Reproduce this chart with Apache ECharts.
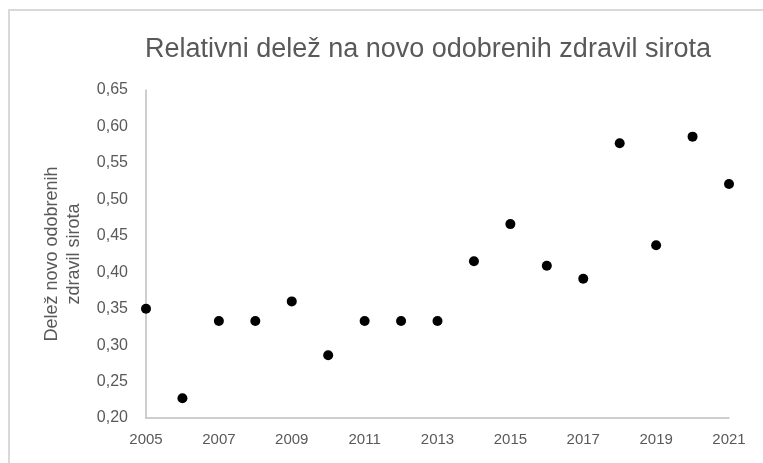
<!DOCTYPE html>
<html>
<head>
<meta charset="utf-8">
<script src="https://cdn.jsdelivr.net/npm/echarts@6/dist/echarts.min.js"></script>
<style>
	html, body { margin: 0; padding: 0; background: #fff; }
	#chart { width: 763px; height: 463px; }
</style>
</head>
<body>
<div id="chart"></div>
<script>
var years = [2005, 2006, 2007, 2008, 2009, 2010, 2011, 2012, 2013, 2014, 2015, 2016, 2017, 2018, 2019, 2020, 2021];
var shares = [0.350, 0.227, 0.333, 0.333, 0.360, 0.286, 0.333, 0.333, 0.333, 0.415, 0.466, 0.409, 0.391, 0.577, 0.437, 0.586, 0.521];
var titleText = 'Relativni delež na novo odobrenih zdravil sirota';
var yName = 'Delež novo odobrenih\nzdravil sirota';

var points = years.map(function (y, i) { return [y, shares[i]]; });

var myChart = echarts.init(document.getElementById('chart'));
var option = {
	backgroundColor: '#fff',
	textStyle: { fontFamily: 'Liberation Sans' },
	title: {
		text: titleText,
		left: 423,
		top: 31,
		textAlign: 'center',
		textStyle: {
			fontSize: 27,
			fontWeight: 'normal',
			color: '#595959',
			fontFamily: 'Liberation Sans'
		}
	},
	graphic: [{
		type: 'rect',
		shape: { x: 9, y: 10, width: 800, height: 500 },
		style: { fill: 'none', stroke: '#d9d9d9', lineWidth: 2 },
		silent: true
	}],
	grid: { left: 146, right: 34, top: 90, bottom: 45 },
	xAxis: {
		type: 'value',
		min: 2005,
		max: 2021,
		interval: 2,
		axisLine: { show: true, lineStyle: { color: '#bfbfbf', width: 1.5 } },
		axisTick: { show: false },
		splitLine: { show: false },
		axisLabel: {
			color: '#595959',
			fontSize: 15,
			margin: 14,
			formatter: function (v) { return String(v); }
		}
	},
	yAxis: {
		type: 'value',
		min: 0.2,
		max: 0.65,
		interval: 0.05,
		name: yName,
		nameLocation: 'middle',
		nameGap: 61,
		nameTextStyle: { color: '#595959', fontSize: 18, lineHeight: 22, align: 'center' },
		axisLine: { show: true, lineStyle: { color: '#bfbfbf', width: 1.5 } },
		axisTick: { show: false },
		splitLine: { show: false },
		axisLabel: {
			color: '#595959',
			fontSize: 16,
			margin: 18,
			formatter: function (v) { return v.toFixed(2).replace('.', ','); }
		}
	},
	series: [{
		type: 'scatter',
		data: points,
		symbol: 'circle',
		symbolSize: 10,
		itemStyle: { color: '#000', opacity: 1 }
	}]
};
myChart.setOption(option);
</script>
</body>
</html>
